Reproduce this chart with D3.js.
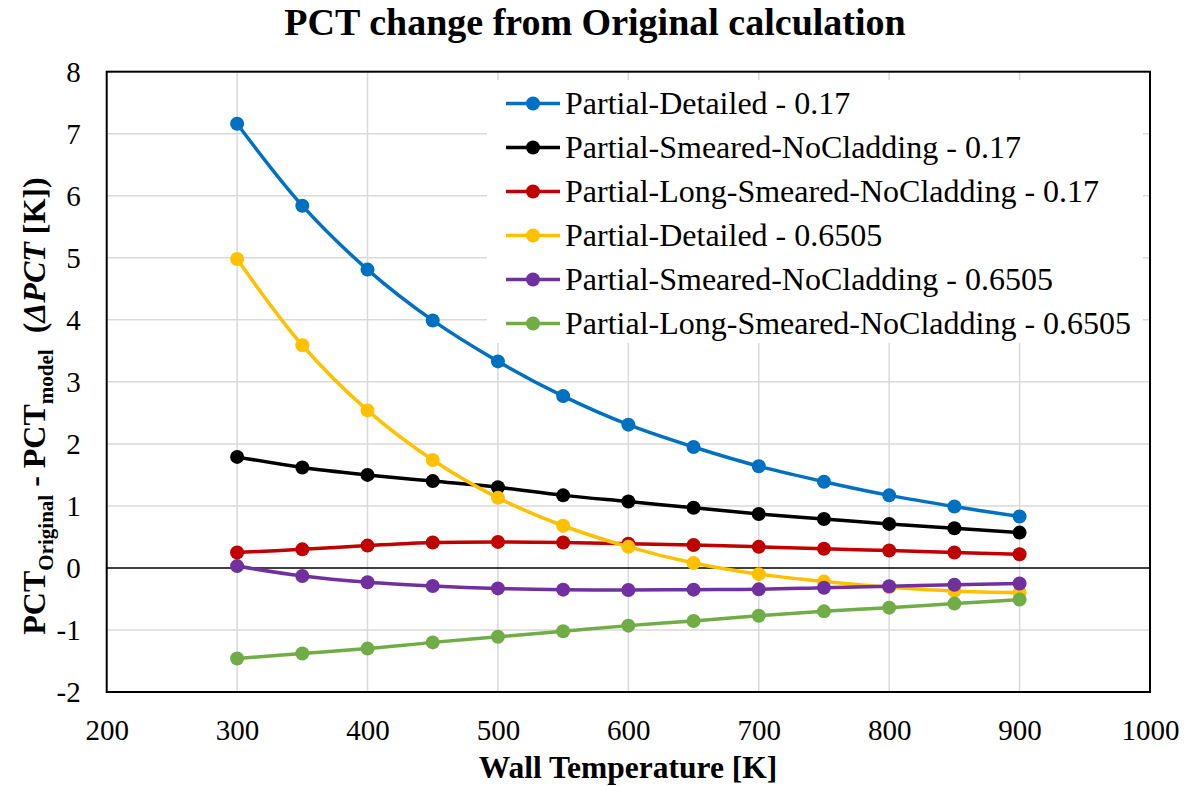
<!DOCTYPE html>
<html>
<head>
<meta charset="utf-8">
<script src="https://cdn.jsdelivr.net/npm/d3@7"></script>
<style>
  html, body { margin: 0; padding: 0; background: #fff; }
  svg { display: block; }
  text { font-family: "Liberation Serif", "Times New Roman", serif; fill: #000; }
</style>
</head>
<body>
<svg id="chart" width="1187" height="786"></svg>
<script>
// Wall temperatures [K]
const temps = [300, 350, 400, 450, 500, 550, 600, 650, 700, 750, 800, 850, 900];

// PCT_Original - PCT_model [K] for each model / coefficient
const detailed017 = [7.16, 5.84, 4.81, 3.99, 3.33, 2.77, 2.31, 1.95, 1.64, 1.39, 1.17, 0.99, 0.83];
const smeared017 = [1.79, 1.62, 1.50, 1.40, 1.30, 1.17, 1.07, 0.97, 0.87, 0.79, 0.71, 0.64, 0.57];
const longSmeared017 = [0.25, 0.30, 0.36, 0.41, 0.42, 0.41, 0.39, 0.37, 0.34, 0.31, 0.28, 0.25, 0.22];
const detailed06505 = [4.98, 3.59, 2.54, 1.74, 1.13, 0.68, 0.34, 0.08, -0.10, -0.22, -0.31, -0.37, -0.40];
const smeared06505 = [0.03, -0.13, -0.23, -0.29, -0.33, -0.35, -0.355, -0.35, -0.345, -0.32, -0.295, -0.27, -0.25];
const longSmeared06505 = [-1.46, -1.38, -1.30, -1.20, -1.11, -1.02, -0.93, -0.855, -0.77, -0.70, -0.64, -0.575, -0.51];

const seriesNames = [
  "Partial-Detailed - 0.17",
  "Partial-Smeared-NoCladding - 0.17",
  "Partial-Long-Smeared-NoCladding - 0.17",
  "Partial-Detailed - 0.6505",
  "Partial-Smeared-NoCladding - 0.6505",
  "Partial-Long-Smeared-NoCladding - 0.6505"
];
const seriesColors = ["#0070C0", "#000000", "#C00000", "#FFC000", "#7030A0", "#70AD47"];
const seriesValues = [detailed017, smeared017, longSmeared017, detailed06505, smeared06505, longSmeared06505];

const xTicks = [200, 300, 400, 500, 600, 700, 800, 900, 1000];
const yTicks = [-2, -1, 0, 1, 2, 3, 4, 5, 6, 7, 8];

const titleText = "PCT change from Original calculation";
const xTitleText = "Wall Temperature [K]";

// ---- layout ----
const serif = '"Liberation Serif", "Times New Roman", serif';
const plot = { left: 106.7, right: 1150, top: 71.7, bottom: 692 };
const svg = d3.select("#chart");

const x = d3.scaleLinear().domain([200, 1000]).range([plot.left, plot.right]);
const y = d3.scaleLinear().domain([-2, 8]).range([plot.bottom, plot.top]);

// gridlines
const grid = svg.append("g").attr("class", "grid");
grid.selectAll("line.v").data(xTicks.slice(1, -1)).join("line")
  .attr("class", "v")
  .attr("x1", d => x(d)).attr("x2", d => x(d))
  .attr("y1", plot.top).attr("y2", plot.bottom)
  .attr("stroke", "#d9d9d9").attr("stroke-width", 1.5);
grid.selectAll("line.h").data(yTicks.filter(d => d !== 0 && d !== -2 && d !== 8)).join("line")
  .attr("class", "h")
  .attr("x1", plot.left).attr("x2", plot.right)
  .attr("y1", d => y(d)).attr("y2", d => y(d))
  .attr("stroke", "#d9d9d9").attr("stroke-width", 1.5);

// zero line
svg.append("line")
  .attr("x1", plot.left).attr("x2", plot.right)
  .attr("y1", y(0)).attr("y2", y(0))
  .attr("stroke", "#000").attr("stroke-width", 1.5);

// axes with tick labels only (plain hyphen for negatives)
const tickFmt = d => String(d);
const xAxis = d3.axisBottom(x).tickValues(xTicks).tickSize(0).tickPadding(0).tickFormat(tickFmt);
const gx = svg.append("g").attr("transform", `translate(0,${plot.bottom})`).call(xAxis);
gx.select(".domain").remove();
gx.attr("font-family", null).attr("font-size", null);
gx.selectAll("text").attr("font-size", 29).attr("dy", null).attr("y", 48)
  .style("font-family", serif).attr("fill", "#000");

const yAxis = d3.axisLeft(y).tickValues(yTicks).tickSize(0).tickPadding(0).tickFormat(tickFmt);
const gy = svg.append("g").attr("transform", `translate(${plot.left},0)`).call(yAxis);
gy.select(".domain").remove();
gy.attr("font-family", null).attr("font-size", null);
gy.selectAll("text").attr("font-size", 29).attr("x", -26).attr("dy", "0.34em")
  .style("font-family", serif).attr("fill", "#000");

// legend background (sits over the gridlines)
const legend = { left: 487, top: 80, width: 656, height: 263, rowGap: 44, firstRow: 103.5 };
svg.append("rect")
  .attr("x", legend.left).attr("y", legend.top)
  .attr("width", legend.width).attr("height", legend.height)
  .attr("fill", "#fff");

// plot frame
svg.append("rect")
  .attr("x", plot.left).attr("y", plot.top)
  .attr("width", plot.right - plot.left).attr("height", plot.bottom - plot.top)
  .attr("fill", "none").attr("stroke", "#000").attr("stroke-width", 2);

// series
const line = d3.line()
  .x((d, i) => x(temps[i]))
  .y(d => y(d))
  .curve(d3.curveCatmullRom.alpha(0.5));

const seriesG = svg.append("g");
seriesValues.forEach((vals, si) => {
  const g = seriesG.append("g");
  g.append("path")
    .datum(vals)
    .attr("d", line)
    .attr("fill", "none")
    .attr("stroke", seriesColors[si])
    .attr("stroke-width", 3.5);
  g.selectAll("circle").data(vals).join("circle")
    .attr("cx", (d, i) => x(temps[i]))
    .attr("cy", d => y(d))
    .attr("r", 7)
    .attr("fill", seriesColors[si]);
});

// legend entries
const lg = svg.append("g");
seriesNames.forEach((name, i) => {
  const cy = legend.firstRow + i * legend.rowGap;
  lg.append("line")
    .attr("x1", 506).attr("x2", 560).attr("y1", cy).attr("y2", cy)
    .attr("stroke", seriesColors[i]).attr("stroke-width", 3.5);
  lg.append("circle").attr("cx", 533).attr("cy", cy).attr("r", 7).attr("fill", seriesColors[i]);
  lg.append("text").attr("x", 565).attr("y", cy).attr("dy", "0.34em")
    .attr("font-size", 32).text(name);
});

// chart title
svg.append("text")
  .attr("x", 595).attr("y", 35)
  .attr("text-anchor", "middle")
  .attr("font-size", 38).attr("font-weight", "bold")
  .text(titleText);

// x axis title
svg.append("text")
  .attr("x", 628).attr("y", 778)
  .attr("text-anchor", "middle")
  .attr("font-size", 31.5).attr("font-weight", "bold")
  .text(xTitleText);

// y axis title with subscripts and italic delta term
const yt = svg.append("text")
  .attr("transform", "translate(45,406) rotate(-90)")
  .attr("text-anchor", "middle")
  .attr("font-size", 32).attr("font-weight", "bold");
yt.append("tspan").text("PCT");
yt.append("tspan").attr("font-size", 21).attr("dy", 8).text("Original");
yt.append("tspan").attr("dy", -8).text(" - PCT");
yt.append("tspan").attr("font-size", 21).attr("dy", 8).text("model");
yt.append("tspan").attr("dy", -8).text("\u00a0\u00a0(");
yt.append("tspan").attr("font-style", "italic").text("ΔPCT");
yt.append("tspan").text(" [K])");
</script>
</body>
</html>
